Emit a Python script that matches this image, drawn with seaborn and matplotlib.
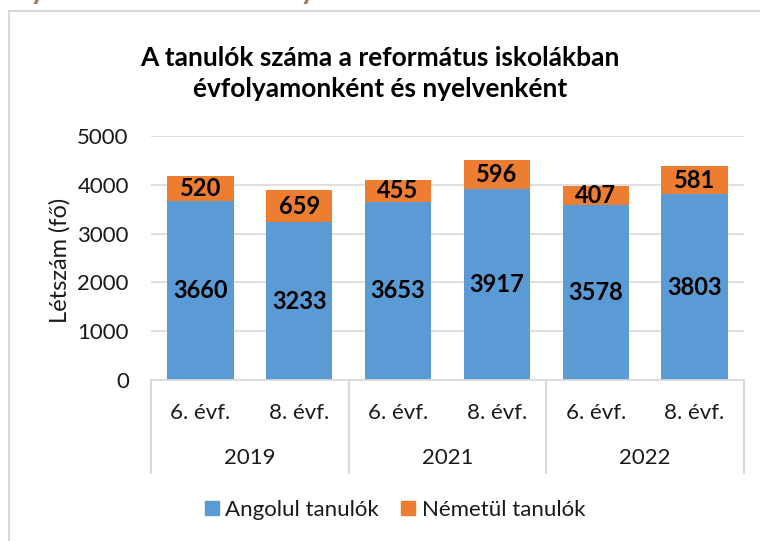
import matplotlib
matplotlib.use("Agg")
import matplotlib.pyplot as plt
import matplotlib.patches as mpatches
from matplotlib.lines import Line2D
import seaborn as sns
import pandas as pd

years = ["2019", "2021", "2022"]
grades = ["6. évf.", "8. évf."]
angolul = [3660, 3233, 3653, 3917, 3578, 3803]
nemetul = [520, 659, 455, 596, 407, 581]
series_names = ["Angolul tanulók", "Németül tanulók"]
title_lines = ["A tanulók száma a református iskolákban", "évfolyamonként és nyelvenként"]
ylabel = "Létszám (fő)"
yticks = [0, 1000, 2000, 3000, 4000, 5000]

BLUE = "#5B9BD5"
ORANGE = "#ED7D31"
GRID = "#D9D9D9"
TXT = "#1a1a1a"

sns.set_theme(style="white")
plt.rcParams["font.family"] = ["Lato", "DejaVu Sans"]

cats = [f"{y} {g}" for y in years for g in grades]
df = pd.DataFrame({"cat": cats, "ang": angolul, "nem": nemetul})
df["total"] = df["ang"] + df["nem"]

fig = plt.figure(figsize=(7.6, 5.41), dpi=100)
W, H = 760, 541
ax = fig.add_axes([151 / W, 1 - 380 / H, (744 - 151) / W, (380 - 136) / H])
AXH = 380 - 136

sns.barplot(data=df, x="cat", y="total", color=ORANGE, saturation=1, width=0.67,
            ax=ax, linewidth=0)
sns.barplot(data=df, x="cat", y="ang", color=BLUE, saturation=1, width=0.67,
            ax=ax, linewidth=0)

ax.set_ylim(0, 5000)
ax.set_xlim(-0.5, len(cats) - 0.5)
ax.set_yticks(yticks)
ax.set_yticklabels([str(t) for t in yticks], fontsize=16, color=TXT)
ax.tick_params(axis="y", length=0, pad=16)
ax.set_xticks([])
ax.set_xlabel("")
ax.set_ylabel("")
ax.yaxis.grid(True, color=GRID, linewidth=1.2)
ax.set_axisbelow(True)
for s in ["left", "right", "top"]:
    ax.spines[s].set_visible(False)
ax.spines["bottom"].set_color(GRID)
ax.spines["bottom"].set_linewidth(1.2)

fig.text(60 / W, 1 - 260 / H, ylabel, rotation=90, ha="center", va="center",
         fontsize=17, color=TXT)

# data labels
for i, (a, n) in enumerate(zip(angolul, nemetul)):
    ax.text(i, a / 2, str(a), ha="center", va="center", fontsize=17,
            fontweight="bold", color="black")
    ax.text(i, a + n / 2, str(n), ha="center", va="center", fontsize=17,
            fontweight="bold", color="black")

# multi-level category axis
trans = ax.get_xaxis_transform()
for i, c in enumerate(cats):
    ax.text(i, -33 / AXH, grades[i % 2], transform=trans, ha="center", va="center",
            fontsize=16, color=TXT, clip_on=False)
for j, y in enumerate(years):
    ax.text(2 * j + 0.5, -78 / AXH, y, transform=trans, ha="center", va="center",
            fontsize=16, color=TXT, clip_on=False)
for k in range(len(years) + 1):
    ax.add_line(Line2D([2 * k - 0.5, 2 * k - 0.5], [0, -93 / AXH], transform=trans,
                       color=GRID, linewidth=1.5, clip_on=False))

# title
fig.text(380 / W, 1 - 58 / H, title_lines[0], ha="center", va="center",
         fontsize=19, fontweight="bold", color="black")
fig.text(380 / W, 1 - 89 / H, title_lines[1], ha="center", va="center",
         fontsize=19, fontweight="bold", color="black")

# legend
handles = [mpatches.Patch(color=BLUE, label=series_names[0]),
           mpatches.Patch(color=ORANGE, label=series_names[1])]
fig.legend(handles=handles, loc="center", bbox_to_anchor=(395 / W, 1 - 510 / H),
           ncol=2, frameon=False, fontsize=16, handlelength=0.62, handleheight=0.62,
           handletextpad=0.3, columnspacing=1.0, labelcolor=TXT,
           borderaxespad=0, borderpad=0)

# chart border
fig.add_artist(mpatches.Rectangle((9 / W, -0.05), 1.0, 1 - 11 / H + 0.05,
                                  transform=fig.transFigure, fill=False,
                                  edgecolor=GRID, linewidth=1.5))

# heading descenders cut off above the chart (as in the reference)
for xpos in [30, 300]:
    fig.text(xpos / W, 1.0 + 1 / H, "y", ha="left", va="baseline", fontsize=22,
             fontweight="bold", color="#9C7F55")

fig.savefig("out.png", dpi=100)
